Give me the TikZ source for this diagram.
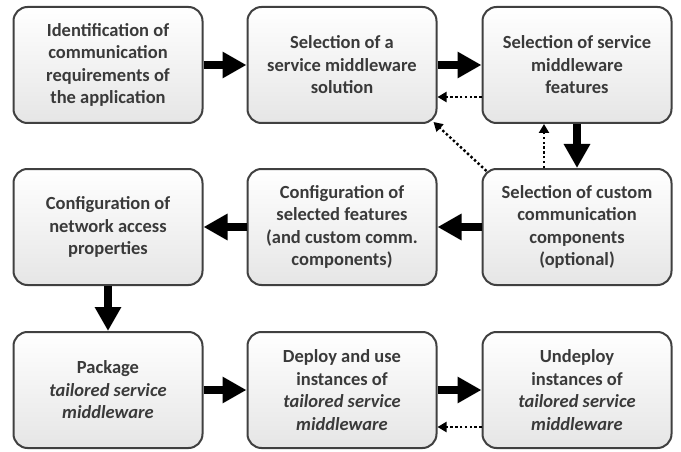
\documentclass[tikz,border=0pt]{standalone}
\usepackage{fontspec}
\setmainfont{Carlito}
\usetikzlibrary{arrows.meta,shadings}
\definecolor{txt}{HTML}{3A3A3A}
\definecolor{edge}{HTML}{404040}
\tikzset{
  box/.style={draw=edge, line width=2pt, rounded corners=14pt,
    top color=white, bottom color=black!10,
    minimum width=189pt, minimum height=116pt, inner sep=2pt,
    align=center, text=txt,
    font=\fontsize{18.5}{22.5}\selectfont\bfseries},
  bigarr/.style={line width=8pt, -{Triangle[length=24pt,width=25pt]}, black},
  dotarr/.style={line width=2.4pt, dash pattern=on 2.4pt off 2.4pt, -{Triangle[length=9pt,width=10pt]}, black},
}
\begin{document}
\begin{tikzpicture}[x=1pt,y=-1pt]
\useasboundingbox (0,0) rectangle (681,452);
\node[box] (n1) at (108,65) {Identification of\\communication\\requirements of\\the application};
\node[box] (n2) at (342,65) {Selection of a\\service middleware\\solution};
\node[box] (n3) at (577,65) {Selection of service\\middleware\\features};
\node[box] (n4) at (108,227) {Configuration of\\network access\\properties};
\node[box] (n5) at (342,227) {Configuration of\\selected features\\(and custom comm.\\components)};
\node[box] (n6) at (577,227) {Selection of custom\\communication\\components\\(optional)};
\node[box] (n7) at (108,390) {Package\\\textit{tailored service}\\\textit{middleware}};
\node[box] (n8) at (342,390) {Deploy and use\\instances of\\\textit{tailored service}\\\textit{middleware}};
\node[box] (n9) at (577,390) {Undeploy\\instances of\\\textit{tailored service}\\\textit{middleware}};

\draw[bigarr] (n1.east) -- (n2.west);
\draw[bigarr] (n2.east) -- (n3.west);
\draw[bigarr] (n3.south) -- (n6.north);
\draw[bigarr] (n6.west) -- (n5.east);
\draw[bigarr] (n5.west) -- (n4.east);
\draw[bigarr] (n4.south) -- (n7.north);
\draw[bigarr] (n7.east) -- (n8.west);
\draw[bigarr] (n8.east) -- (n9.west);

\draw[dotarr] ([yshift=-32pt]n3.west) -- ([yshift=-32pt]n2.east);
\draw[dotarr] ([xshift=-33pt]n6.north) -- ([xshift=-33pt]n3.south);
\draw[dotarr] ([xshift=5pt,yshift=-3pt]n6.north west) -- ([xshift=-4pt,yshift=2pt]n2.south east);
\draw[dotarr] ([yshift=-37pt]n9.west) -- ([yshift=-37pt]n8.east);
\end{tikzpicture}
\end{document}
